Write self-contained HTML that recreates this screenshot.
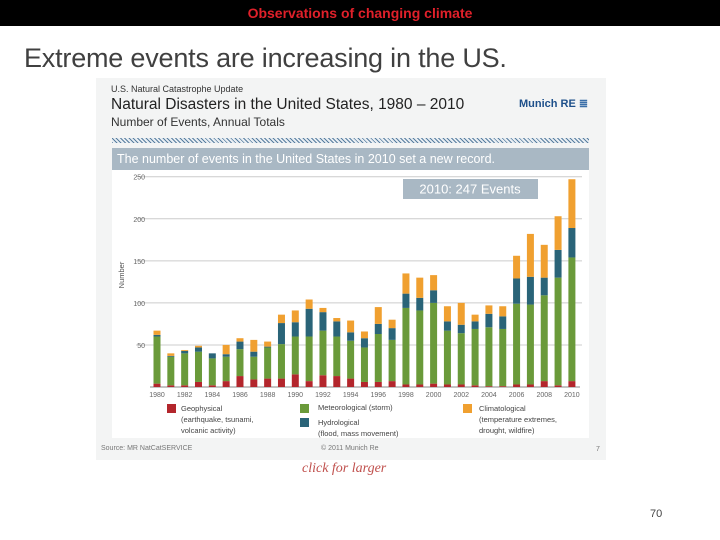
<!DOCTYPE html>
<html><head><meta charset="utf-8"><style>
body{margin:0;width:720px;height:540px;background:#fff;position:relative;overflow:hidden;font-family:"Liberation Sans",sans-serif}
.a{position:absolute;white-space:nowrap}
</style></head><body>
<div class="a" style="left:0;top:0;width:720px;height:26px;background:#000"></div>
<div class="a" style="left:0;width:720px;top:5px;text-align:center;color:#e0202a;font-size:14px;font-weight:bold;font-family:'Liberation Sans',sans-serif">Observations of changing climate</div>
<div class="a" style="left:24px;top:43px;font-size:27px;color:#404040;letter-spacing:-0.2px">Extreme events are increasing in the US.</div>
<div class="a" style="left:96px;top:78px;width:510px;height:382px;background:#f3f4f4"></div>
<div class="a" style="left:111px;top:84px;font-size:9px;color:#333">U.S. Natural Catastrophe Update</div>
<div class="a" style="left:111px;top:96px;font-size:15.5px;color:#222">Natural Disasters in the United States, 1980 – 2010</div>
<div class="a" style="left:111px;top:115px;font-size:12px;color:#333">Number of Events, Annual Totals</div>
<div class="a" style="left:519px;top:97px;font-size:11px;font-weight:bold;color:#1d4f8a">Munich RE <span style="color:#3a6ea8">≣</span></div>
<div class="a" style="left:112px;top:138px;width:477px;height:5px;background:repeating-linear-gradient(45deg,#5a7fa0 0 1px,#e8eef3 1px 3px)"></div>
<div class="a" style="left:112px;top:148px;width:477px;height:22px;background:#a9b8c4;color:#fff;font-size:12.5px;line-height:22px;padding-left:5px;box-sizing:border-box">The number of events in the United States in 2010 set a new record.</div>
<svg class="a" style="left:112px;top:170px" width="477" height="268" id="svg"></svg>
<div class="a" style="left:0;top:0">
<div class="a" style="left:167px;top:404px;width:9px;height:9px;background:#b3262c"></div>
<div class="a" style="left:181px;top:403px;font-size:7.5px;color:#444;line-height:11px">Geophysical<br>(earthquake, tsunami,<br>volcanic activity)</div>
<div class="a" style="left:300px;top:404px;width:9px;height:9px;background:#6a9a3a"></div>
<div class="a" style="left:318px;top:403px;font-size:7.5px;color:#444">Meteorological (storm)</div>
<div class="a" style="left:300px;top:418px;width:9px;height:9px;background:#2a6478"></div>
<div class="a" style="left:318px;top:417px;font-size:7.5px;color:#444;line-height:11px">Hydrological<br>(flood, mass movement)</div>
<div class="a" style="left:463px;top:404px;width:9px;height:9px;background:#f0a030"></div>
<div class="a" style="left:479px;top:403px;font-size:7.5px;color:#444;line-height:11px">Climatological<br>(temperature extremes,<br>drought, wildfire)</div>
</div>
<div class="a" style="left:101px;top:445px;font-size:7px;color:#777">Source: MR NatCatSERVICE</div>
<div class="a" style="left:321px;top:445px;font-size:7px;color:#777">© 2011 Munich Re</div>
<div class="a" style="left:596px;top:446px;font-size:7px;color:#777">7</div>
<div class="a" style="left:302px;top:461px;font-size:14px;font-style:italic;color:#c0504d;font-family:'Liberation Serif',serif">click for larger</div>
<div class="a" style="left:650px;top:508px;font-size:11px;color:#444">70</div>
<script>
const years=[];for(let y=1980;y<=2010;y++)years.push(y);
const geo=[4,2,2,6,2,7,13,9,10,10,15,7,14,13,10,6,6,7,3,3,4,3,3,2,1,1,3,3,7,2,7];
const met=[56,34,38,36,32,29,32,27,37,41,45,53,53,47,45,41,57,49,91,88,96,64,61,67,70,68,96,95,102,128,147];
const hyd=[2,1,3,5,6,3,9,6,1,25,17,33,22,18,10,11,12,14,17,15,15,11,10,9,16,15,30,33,21,33,35];
const cli=[5,3,1,2,0,11,4,14,6,10,14,11,5,4,14,8,20,10,24,24,18,18,26,8,10,12,27,51,39,40,58];
const yTicks=[50,100,150,200,250];
const svg=document.getElementById('svg');const NS='http://www.w3.org/2000/svg';
svg.innerHTML='<rect width="477" height="268" fill="#fff"/>';
const y0=217,yTop=6.7;
const ys=v=>y0-(v/250)*(y0-yTop);
const xs=i=>45+i*13.83;
function mk(t,a){const e=document.createElementNS(NS,t);for(const k in a)e.setAttribute(k,a[k]);svg.appendChild(e);return e;}
yTicks.forEach(t=>{
const l=mk('line',{x1:24,x2:470,y1:ys(t),y2:ys(t),stroke:'#ccc','stroke-width':1});


const tx=mk('text',{x:33,y:ys(t)+3,'font-size':7,fill:'#666','text-anchor':'end','font-family':'Liberation Sans'});tx.textContent=t;


});
const yt=mk('text',{x:12,y:105,'font-size':7.5,fill:'#555','text-anchor':'middle',transform:'rotate(-90 12 105)','font-family':'Liberation Sans'});yt.textContent='Number';


const ax=mk('line',{x1:38,x2:468,y1:y0,y2:y0,stroke:'#888','stroke-width':1});


const series=[[geo,'#b3262c','geophysical'],[met,'#6a9a3a','meteorological'],[hyd,'#2a6478','hydrological'],[cli,'#f0a030','climatological']];
years.forEach((yr,i)=>{
let c=0;
series.forEach(([arr,col,nm])=>{
const v=arr[i];
const r=mk('rect',{x:xs(i)-3.5,width:7,y:ys(c+v),height:ys(c)-ys(c+v),fill:col});


c+=v;});
if(i%2==0){const tx=mk('text',{x:xs(i),y:y0+10,'font-size':7,fill:'#666','text-anchor':'middle','font-family':'Liberation Sans'});tx.textContent=yr;

}
});
const ab=mk('rect',{x:291,y:9,width:135,height:20,fill:'#a9b8c4'});


const at=mk('text',{x:358,y:23.5,'font-size':13,fill:'#fff','text-anchor':'middle','font-family':'Liberation Sans'});at.textContent='2010:  247 Events';


</script>
</body></html>
